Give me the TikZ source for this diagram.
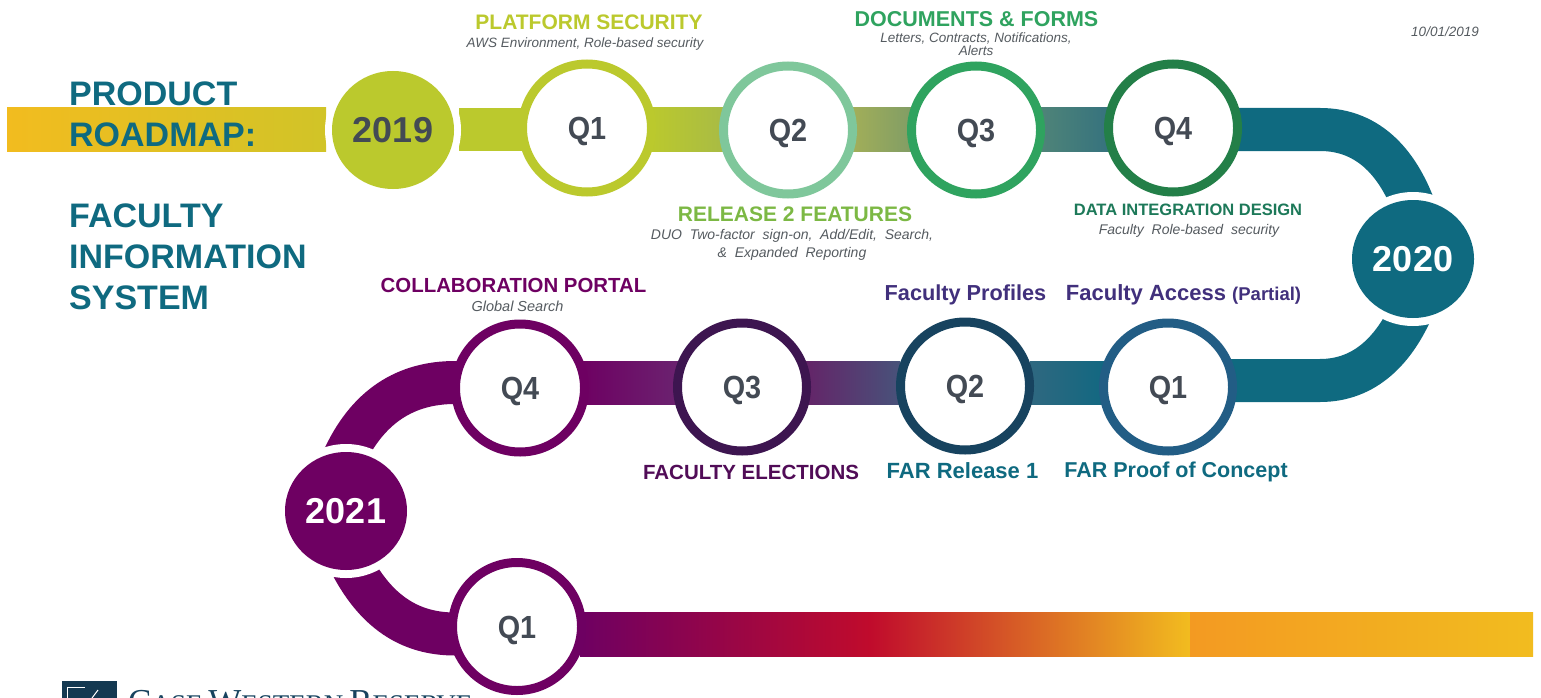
\documentclass[tikz,border=0pt]{standalone}
\usepackage{fontspec}
\setmainfont{Liberation Sans}
\newfontfamily\condfont[FakeStretch=0.9]{Liberation Sans}
\newfontfamily\logofont{Liberation Serif}
\usetikzlibrary{shapes.geometric}
\definecolor{teal1}{HTML}{0F6A80}
\definecolor{lime}{HTML}{BBC92D}
\definecolor{gold}{HTML}{F2BC1F}
\definecolor{plum}{HTML}{6E0062}
\definecolor{slate}{HTML}{434A54}
\definecolor{mint}{HTML}{7FC79B}
\definecolor{grn}{HTML}{2FA35F}
\definecolor{dgrn}{HTML}{237F48}
\definecolor{indigo}{HTML}{41307C}
\definecolor{dplum}{HTML}{3D1550}
\definecolor{navy}{HTML}{17435F}
\definecolor{blue1}{HTML}{225D85}
\definecolor{crim}{HTML}{C00B2C}
\definecolor{grey1}{HTML}{555B60}
\definecolor{amber}{HTML}{F39A22}
\definecolor{bandA}{HTML}{A8BB45}
\definecolor{bandB}{HTML}{A3AF58}
\definecolor{bandC}{HTML}{7F9C66}
\definecolor{bandD}{HTML}{4F8478}
\definecolor{bandE}{HTML}{35727E}
\definecolor{bandF}{HTML}{6B2370}
\definecolor{bandG}{HTML}{642468}
\definecolor{bandH}{HTML}{48527A}
\definecolor{bandI}{HTML}{2F6880}
\tikzset{
  x=1pt,y=-1pt,
  ring/.style={ellipse,draw=#1,fill=white,line width=9pt,minimum width=129pt,minimum height=128pt,inner sep=0pt,font=\condfont\bfseries\fontsize{32}{32}\selectfont,text=slate,text height=23pt,text depth=0pt},
  year/.style={ellipse,fill=#1,minimum width=122pt,minimum height=118pt,inner sep=0pt,font=\bfseries\fontsize{36}{36}\selectfont,text=white,text height=25pt,text depth=0pt},
  halo/.style={ellipse,fill=white,minimum width=136pt,minimum height=134pt},
  head/.style={font=\bfseries\fontsize{21}{21}\selectfont,text=#1,inner sep=0pt,align=center,text height=15pt,text depth=0pt},
  sub/.style={font=\itshape\fontsize{13.5}{12.5}\selectfont,text=grey1,inner sep=0pt,align=center},
  title/.style={font=\bfseries\fontsize{34}{41}\selectfont,text=teal1,inner sep=0pt,align=left,anchor=north west},
  curve/.style={line width=43pt,draw=#1}
}
\begin{document}
\begin{tikzpicture}
\useasboundingbox (0,0) rectangle (1541,698);
\fill[white] (0,0) rectangle (1541,698);
% bands
\shade[left color=gold,right color=lime!60!gold] (7,108) rectangle (326,151);
\fill[lime] (459,108) rectangle (650,151);
\shade[left color=lime,right color=bandA] (650,108) rectangle (725,151);
\shade[left color=bandB,right color=bandC] (850,108) rectangle (915,151);
\shade[left color=bandD,right color=bandE] (1040,108) rectangle (1110,151);
\draw[curve=teal1] (1200,129.5) -- (1320,129.5) .. controls (1370,129.5) and (1400,165) .. (1417,215);
\draw[curve=teal1] (1200,380.5) -- (1320,380.5) .. controls (1365,380.5) and (1395,350) .. (1414,305);
\shade[left color=bandI,right color=teal1!85!blue1] (1030,361) rectangle (1105,404);
\shade[left color=bandG,right color=bandH] (805,361) rectangle (900,404);
\shade[left color=plum,right color=bandF] (580,361) rectangle (680,404);
\draw[curve=plum] (470,382.5) -- (455,382.5) .. controls (407,382.5) and (367,405) .. (342,462);
\draw[curve=plum] (470,634) -- (455,634) .. controls (410,634) and (375,612) .. (349,560);
\shade[left color=plum,right color=crim] (580,612) rectangle (870,656);
\shade[left color=crim,right color=gold] (870,612) rectangle (1190,656);
\shade[left color=amber,right color=gold] (1190,612) rectangle (1533,656);
% white halos around year circles
\node[halo] (h19) at (393,130) {};
\node[halo] (h20) at (1413,259) {};
\node[halo] (h21) at (346,511) {};
% years
\node[year=lime,text=slate] (y19) at (393,130) {2019};
\node[year=teal1] (y20) at (1413,259) {2020};
\node[year=plum] (y21) at (346,511) {2021};
% rings
\node[ring=lime] (a1) at (587,128) {Q1};
\node[ring=mint] (a2) at (788,130) {Q2};
\node[ring=grn] (a3) at (976,130) {Q3};
\node[ring=dgrn] (a4) at (1173,128) {Q4};
\node[ring=blue1] (b1) at (1168,387) {Q1};
\node[ring=navy] (b2) at (965,386) {Q2};
\node[ring=dplum] (b3) at (742,387) {Q3};
\node[ring=plum] (b4) at (520,388) {Q4};
\node[ring=plum] (c1) at (517,626.5) {Q1};
% titles
\node[title] (t1) at (69,82) {PRODUCT\\ROADMAP:};
\node[title] (t2) at (69,204) {FACULTY\\INFORMATION\\SYSTEM};
% labels
\node[head=lime] (h1) at (589,22) {PLATFORM SECURITY};
\node[sub] (s1) at (585,44) {AWS Environment, Role-based security};
\node[head=grn,font=\bfseries\fontsize{21.5}{21.5}\selectfont] (h3) at (976.5,19) {DOCUMENTS \& FORMS};
\node[sub] (s3) at (976,44) {Letters, Contracts, Notifications,\\Alerts};
\node[sub] (date) at (1445,32) {10/01/2019};
\node[head=lime!55!grn] (h2) at (795,214) {RELEASE 2 FEATURES};
\node[sub,font=\itshape\fontsize{14}{18}\selectfont] (s2) at (792,245) {DUO\ \ Two-factor\ \ sign-on,\ \ Add/Edit,\ \ Search,\\\&\ \ Expanded\ \ Reporting};
\node[head=dgrn!70!teal1,font=\bfseries\fontsize{16.5}{16.5}\selectfont,text height=12pt] (h4) at (1188,209) {DATA INTEGRATION DESIGN};
\node[sub,font=\itshape\fontsize{14}{14}\selectfont] (s4) at (1189,231) {Faculty\ \ Role-based\ \ security};
\node[head=plum,font=\bfseries\fontsize{20.4}{20.4}\selectfont] (h5) at (513.5,285) {COLLABORATION PORTAL};
\node[sub,font=\itshape\fontsize{14.5}{14.5}\selectfont] (s5) at (517.5,306) {Global Search};
\node[head=indigo,font=\bfseries\fontsize{21.7}{21.7}\selectfont] (h6) at (965.5,293) {Faculty Profiles};
\node[head=indigo,font=\bfseries\fontsize{22}{22}\selectfont] (h7) at (1183.5,293) {Faculty Access {\fontsize{18.5}{18.5}\selectfont(Partial)}};
\node[head=dplum!60!plum,font=\bfseries\fontsize{20.5}{20.5}\selectfont] (h8) at (751,472) {FACULTY ELECTIONS};
\node[head=teal1,font=\bfseries\fontsize{22}{22}\selectfont] (h9) at (962.5,471) {FAR Release 1};
\node[head=teal1,font=\bfseries\fontsize{21.5}{21.5}\selectfont] (h10) at (1176,470) {FAR Proof of Concept};
% logo, cut by the lower edge as in the reference
\begin{scope}
\clip (0,0) rectangle (1541,698);
\fill[navy!85!black] (62,681) rectangle (117,710);
\draw[white,line width=1pt] (67,698) -- (67,687) -- (85,687);
\draw[white,line width=1pt] (92,698) -- (98,690);
\node[anchor=base west,inner sep=0pt,text=navy] (logo) at (128,713) {\logofont\fontsize{35}{35}\selectfont C{\fontsize{27}{27}\selectfont ASE}\,W{\fontsize{27}{27}\selectfont ESTERN}\,R{\fontsize{27}{27}\selectfont ESERVE}};
\end{scope}
\end{tikzpicture}
\end{document}
